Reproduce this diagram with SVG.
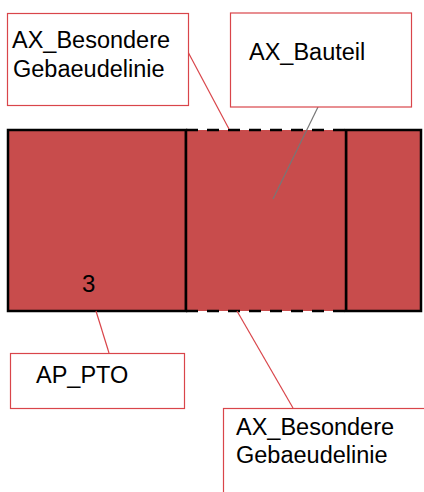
<svg xmlns="http://www.w3.org/2000/svg" width="424" height="492" viewBox="0 0 424 492">
<style>
.t{font-family:"Liberation Sans",Arial,sans-serif;font-size:23.5px;fill:#000}
.box{fill:#fff;stroke:#d9454a;stroke-width:1.2}
.area{fill:#c84c4c;stroke:#000;stroke-width:2.5}
.dash{fill:none;stroke:#000;stroke-width:2.5;stroke-dasharray:12,9}
.lead{fill:none;stroke:#d9454a;stroke-width:1.2}
</style>
<rect width="424" height="492" fill="#fff"/>
<g id="areas">
<rect id="left" class="area" x="8" y="130" width="178" height="181"/>
<rect id="right" class="area" x="346" y="130" width="75" height="181"/>
<g id="middle">
<rect x="186" y="130" width="160" height="181" fill="#c84c4c"/>
<path d="M186 130 L186 311 M346 130 L346 311" fill="none" stroke="#000" stroke-width="2.5"/>
<path d="M186 130 L346 130 M186 311 L346 311" class="dash"/>
</g>
<text class="t" x="82" y="292" style="font-size:24px">3</text>
</g>
<g id="connectors">
<line class="lead" x1="188" y1="52" x2="229" y2="129"/>
<line x1="318" y1="107" x2="273" y2="199" stroke="#777" stroke-width="1.2"/>
<line class="lead" x1="96" y1="311" x2="109" y2="353"/>
<line class="lead" x1="237" y1="311" x2="293" y2="408"/>
</g>
<g id="label1">
<rect class="box" x="7.5" y="13.5" width="181" height="92"/>
<text class="t" x="12" y="48">AX_Besondere</text>
<text class="t" x="13" y="77">Gebaeudelinie</text>
</g>
<g id="label2">
<rect class="box" x="230.5" y="13" width="181" height="94"/>
<text class="t" x="249" y="60">AX_Bauteil</text>
</g>
<g id="label3">
<rect class="box" x="10.5" y="353.5" width="174" height="55"/>
<text class="t" x="36" y="383">AP_PTO</text>
</g>
<g id="label4">
<rect class="box" x="223.5" y="408.5" width="210" height="100"/>
<text class="t" x="236" y="435">AX_Besondere</text>
<text class="t" x="236" y="463">Gebaeudelinie</text>
</g>
</svg>
